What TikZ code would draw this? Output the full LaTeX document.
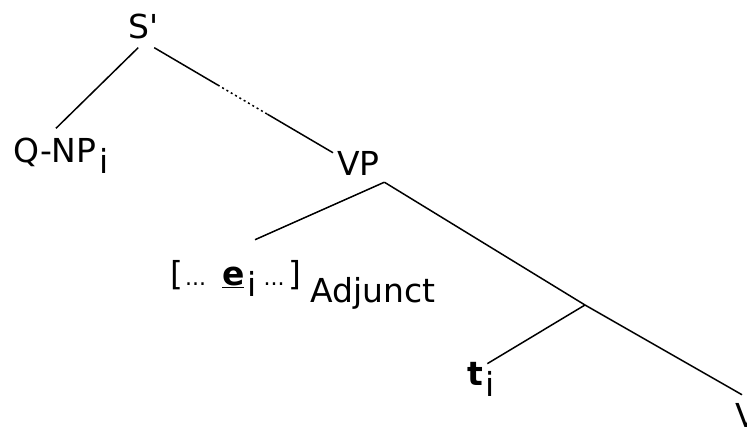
\documentclass[tikz,border=0pt]{standalone}
\usepackage{fontspec}
\setmainfont{DejaVu Sans}
\newcommand{\subs}[1]{\hspace{3pt}\raisebox{-11pt}{#1}}
\newcommand{\smalldots}{{\fontsize{22}{22}\selectfont...}}

\begin{document}
\begin{tikzpicture}[x=1pt, y=-1pt,
    lbl/.style={inner sep=0pt, anchor=base west, font=\fontsize{33}{40}\selectfont},
    branch/.style={line width=1.5pt}]
    \clip (0,0) rectangle (747,426);
    \node[lbl] (s) at (128,38) {S\textquotesingle};
    \node[lbl] (qnp) at (13,162) {Q-NP\subs{i}};
    \node[lbl] (vp) at (337,175) {VP};
    \node[lbl] (adj) at (170,285) {[\hspace{2pt}\smalldots\hspace{16pt}\underline{\textbf{e}}\subs{i}\hspace{7pt}\smalldots\hspace{4pt}]};
    \node[lbl] (adjlbl) at (310,302) {Adjunct};
    \node[lbl] (t) at (467,385) {\textbf{t}\subs{i}};
    \node[lbl] (v) at (735,427) {V};
    \coordinate (vpfoot) at ([shift={(4.5pt,-7pt)}]vp.south east);
    \coordinate (tfork) at (585,305);
    % S' down to Q-NP and VP
    \draw[branch] ([shift={(-5pt,-9pt)}]s.south) -- ([shift={(-5pt,9pt)}]qnp.north);
    \path ([shift={(11pt,-9pt)}]s.south) -- coordinate[pos=.356] (d1) coordinate[pos=.633] (d2) ([shift={(-4pt,-2pt)}]vp.north west);
    \draw[branch] ([shift={(11pt,-9pt)}]s.south) -- (d1);
    \draw[branch, dash pattern=on 2pt off 3pt] (d1) -- (d2);
    \draw[branch] (d2) -- ([shift={(-4pt,-2pt)}]vp.north west);
    % VP down
    \draw[branch] (vpfoot) -- ([shift={(85pt,20pt)}]adj.north west);
    \draw[branch] (vpfoot) -- (tfork) -- ([shift={(7pt,8pt)}]v.north west);
    \draw[branch] (tfork) -- ([shift={(-8pt,-2pt)}]t.north east);
\end{tikzpicture}
\end{document}
